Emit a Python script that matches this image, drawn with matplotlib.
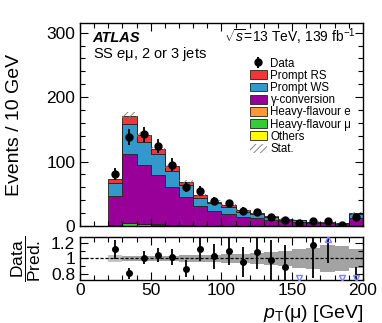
"""
Distribuição de pT(mu) na região SS e-mu, 2 ou 3 jatos, com painel de razão.
"""

import numpy as np
import matplotlib
matplotlib.use("Agg")
import matplotlib.pyplot as plt
from matplotlib.patches import Patch
from matplotlib.ticker import MultipleLocator, FuncFormatter

plt.rcParams["font.family"] = ["Liberation Sans", "DejaVu Sans"]
plt.rcParams["mathtext.fontset"] = "custom"
plt.rcParams["mathtext.rm"] = "Liberation Sans"
plt.rcParams["mathtext.it"] = "Liberation Sans:italic"
plt.rcParams["hatch.linewidth"] = 0.6

# bins de 10 GeV, de 20 a 200 (último bin inclui overflow)
edges = np.arange(20, 201, 10)
centers = edges[:-1] + 5

others = [0.3, 0.5, 0.3, 0.3, 0.2, 0.2, 0.1, 0.1, 0.1, 0.1, 0.1, 0.1, 0.1, 0.1, 0.0, 0.0, 0.0, 0.1]
hf_mu = [1.5, 4.0, 2.5, 0.7, 0.5, 0.3, 0.2, 0.2, 0.1, 0.1, 0.1, 0.1, 0.0, 0.0, 0.0, 0.0, 0.0, 0.2]
hf_e = [0.5, 0.5, 0.7, 2.0, 0.8, 0.5, 0.3, 0.2, 0.2, 0.1, 0.1, 0.1, 0.1, 0.1, 0.1, 0.1, 0.1, 0.2]
gamma_conv = [45, 107, 90.5, 76, 58.5, 44, 30.4, 23.5, 18.6, 13.7, 11.7, 8.7, 6.8, 5.3, 4.4, 3.9, 2.9, 11.5]
prompt_ws = [20, 46, 36, 32, 25, 19, 13, 11, 10, 8.5, 6.5, 5, 3, 3.5, 1.2, 1, 1, 6]
prompt_rs = [5, 13, 11, 8, 8, 5, 4, 3, 3, 2.5, 2, 1, 1, 1, 0.5, 0.5, 0.5, 2]

data = [81, 138, 142, 124, 95, 60, 54, 39, 35, 24, 22.3, 14.7, 9.8, 4.5, 7.3, 8, 1, 14]

# incerteza relativa (banda do painel de razão)
unc_total = [0.05, 0.03, 0.03, 0.035, 0.035, 0.04, 0.045, 0.05, 0.055, 0.065, 0.075,
             0.085, 0.10, 0.12, 0.14, 0.17, 0.16, 0.12]
unc_stat = [0.0, 0.03, 0.03, 0.035, 0.035, 0.04, 0.045, 0.05, 0.055, 0.065, 0.075,
            0.085, 0.10, 0.12, 0.14, 0.17, 0.16, 0.12]

components = [
    ("Others", others, "#ffff00"),
    ("Heavy-flavour μ", hf_mu, "#33cc33"),
    ("Heavy-flavour e", hf_e, "#ff9933"),
    ("γ-conversion", gamma_conv, "#990099"),
    ("Prompt WS", prompt_ws, "#3399cc"),
    ("Prompt RS", prompt_rs, "#f03636"),
]

RATIO_LIM = (0.72, 1.28)

fig = plt.figure(figsize=(3.82, 3.23), dpi=100)
ax = fig.add_axes([0.2094, 0.3003, 0.7406, 0.6285])
rax = fig.add_axes([0.2094, 0.1331, 0.7406, 0.1332])

# --- pilha ---
bottom = np.zeros(len(centers))
for name, vals, color in components:
    vals = np.asarray(vals, dtype=float)
    ax.stairs(bottom + vals, edges, baseline=bottom, fill=True, facecolor=color,
              edgecolor="#222222", linewidth=0.6)
    bottom = bottom + vals
total = bottom

stat = total * np.asarray(unc_stat)
ax.stairs(total + stat, edges, baseline=total - stat, fill=True, facecolor="none",
          edgecolor="#777777", linewidth=0, hatch="/////")

data = np.asarray(data, dtype=float)
ax.errorbar(centers, data, yerr=np.sqrt(data), fmt="o", color="black",
            markersize=5, elinewidth=1.3, capsize=0, zorder=5)

ax.set_xlim(0, 200)
ax.set_ylim(0, 315)
ax.set_ylabel("Events / 10 GeV", fontsize=14)
ax.yaxis.set_label_coords(-0.2, 0.5)
ax.tick_params(labelbottom=False)

ax.text(0.045, 0.905, "ATLAS", transform=ax.transAxes, fontsize=10.5,
        fontweight="bold", fontstyle="italic")
ax.text(0.045, 0.83, "SS $e$μ, 2 or 3 jets", transform=ax.transAxes, fontsize=10.5)
ax.text(0.975, 0.905, r"$\sqrt{s}$=13 TeV, 139 fb$^{-1}$", transform=ax.transAxes,
        fontsize=10, ha="right")

handles = [ax.errorbar([], [], yerr=[], fmt="o", color="black", markersize=5)]
labels = ["Data"]
for name, vals, color in components[::-1]:
    handles.append(Patch(facecolor=color, edgecolor="#222222", linewidth=0.6))
    labels.append(name)
handles.append(Patch(facecolor="none", edgecolor="#777777", linewidth=0, hatch="/////"))
labels.append("Stat.")
ax.legend(handles, labels, loc="upper left", bbox_to_anchor=(0.60, 0.83),
          frameon=False, fontsize=8.3, handlelength=1.5, handleheight=0.8,
          handletextpad=0.3, labelspacing=0.02, borderpad=0, borderaxespad=0)

# --- razão ---
ratio = data / total
ratio_err = np.sqrt(data) / total
rax.stairs(1 + np.asarray(unc_total), edges, baseline=1 - np.asarray(unc_total),
           fill=True, color="#c4c4c4", linewidth=0)
rax.stairs(1 + np.asarray(unc_stat), edges, baseline=1 - np.asarray(unc_stat),
           fill=True, color="#a3a3a3", linewidth=0)
rax.axhline(1, color="black", linestyle="--", linewidth=0.9, dashes=(2.5, 1.5))

inside = (ratio > RATIO_LIM[0]) & (ratio < RATIO_LIM[1])
rax.errorbar(centers[inside], ratio[inside], yerr=ratio_err[inside], fmt="o",
             color="black", markersize=4, elinewidth=1.3, capsize=0, zorder=5)
rax.errorbar(centers[~inside], ratio[~inside], yerr=ratio_err[~inside], fmt="none",
             ecolor="black", elinewidth=1.3, capsize=0, zorder=5)
up = ratio >= RATIO_LIM[1]
down = ratio <= RATIO_LIM[0]
rax.plot(centers[up], np.full(up.sum(), RATIO_LIM[1] - 0.03), "^", markersize=4,
         markerfacecolor="none", markeredgecolor="#8080ff", markeredgewidth=1, zorder=6)
rax.plot(centers[down], np.full(down.sum(), RATIO_LIM[0] + 0.03), "v", markersize=4,
         markerfacecolor="none", markeredgecolor="#8080ff", markeredgewidth=1, zorder=6)

rax.set_xlim(0, 200)
rax.set_ylim(*RATIO_LIM)
rax.yaxis.set_major_locator(MultipleLocator(0.2))
rax.yaxis.set_minor_locator(MultipleLocator(0.1))
rax.yaxis.set_major_formatter(FuncFormatter(lambda v, p: f"{v:g}"))
rax.set_ylabel(r"$\dfrac{\mathrm{Data}}{\mathrm{Pred.}}$", fontsize=12.5)
rax.yaxis.set_label_coords(-0.13, 0.5)
rax.set_xlabel(r"$p_{\mathrm{T}}$(μ) [GeV]", fontsize=14, loc="right")

for a in (ax, rax):
    a.xaxis.set_major_locator(MultipleLocator(50))
    a.xaxis.set_minor_locator(MultipleLocator(10))
    a.tick_params(which="both", direction="in", top=True, right=True, labelsize=12.5)
    a.tick_params(which="major", length=6, width=0.8)
    a.tick_params(which="minor", length=3.5, width=0.8)
    for s in a.spines.values():
        s.set_linewidth(1.0)
ax.yaxis.set_major_locator(MultipleLocator(100))
ax.yaxis.set_minor_locator(MultipleLocator(20))
rax.tick_params(axis="x", pad=2)

fig.savefig("out.png", dpi=100)
